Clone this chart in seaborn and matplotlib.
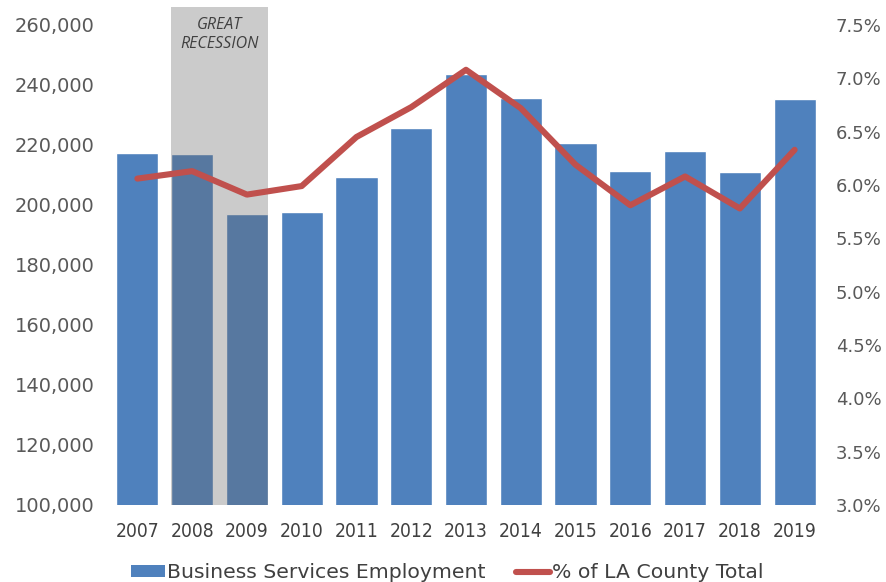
import matplotlib
matplotlib.use("Agg")
import matplotlib.pyplot as plt
import seaborn as sns
import pandas as pd
from matplotlib.ticker import FuncFormatter, MultipleLocator
from matplotlib.patches import Patch
from matplotlib.lines import Line2D
from matplotlib import font_manager as fm

years = ["2007", "2008", "2009", "2010", "2011", "2012", "2013",
         "2014", "2015", "2016", "2017", "2018", "2019"]
employment = [217500, 217000, 197000, 197800, 209300, 225600, 243700,
              235800, 220800, 211400, 218100, 211000, 235200]
share_pct = [6.06, 6.13, 5.91, 5.99, 6.45, 6.73, 7.08,
             6.72, 6.19, 5.81, 6.08, 5.78, 6.33]
recession_years = ["2008", "2009"]
bar_label = "Business Services Employment"
line_label = "% of LA County Total"

sns.set_theme(style="white")
plt.rcParams["font.family"] = ["DejaVu Sans"]

# pick a condensed face for the year labels if one is installed
cond = None
for f in fm.fontManager.ttflist:
    if f.stretch in ("condensed", "semi-condensed", 700, 600) or "Narrow" in f.name or "Condensed" in f.name:
        if f.style == "normal" and f.weight in (400, "normal", "regular"):
            cond = f.fname
            break
if cond:
    year_font = fm.FontProperties(fname=cond, size=13.8)
else:
    year_font = fm.FontProperties(family="Liberation Sans", size=12.5)

df = pd.DataFrame({"year": years, "employment": employment, "share": share_pct})

fig = plt.figure(figsize=(8.86, 5.82), dpi=100)
ax = fig.add_axes([110/886, 1 - 505/582, (822-110)/886, (505-25)/582])

BLUE = "#4f81bd"
RED = "#c0504d"
TICK = "#595959"

sns.barplot(data=df, x="year", y="employment", color=BLUE, saturation=1,
            width=0.77, ax=ax, zorder=2)
ax.set_ylim(100000, 260000)
ax.yaxis.set_major_locator(MultipleLocator(20000))
ax.yaxis.set_major_formatter(FuncFormatter(lambda v, p: f"{int(v):,}"))
ax.set_xlim(-0.5, len(years) - 0.5)
ax.set_xticks(range(len(years)), labels=years, fontproperties=year_font, color="#404040")

# recession shading (overlay)
i0 = years.index(recession_years[0])
i1 = years.index(recession_years[-1])
ax.axvspan(i0 - 0.385, i1 + 0.385, ymin=0, ymax=(505-7)/480, color="#696969",
           alpha=0.345, lw=0, zorder=3, clip_on=False)
ax.text((i0 + i1) / 2, 1.0 - (34.5-25)/480, "GREAT\nRECESSION", transform=ax.get_xaxis_transform(),
        ha="center", va="center", fontstyle="italic", fontsize=11.5, color="#404040",
        linespacing=1.3, zorder=5, fontfamily="Open Sans")

ax2 = ax.twinx()
sns.lineplot(x=list(range(len(years))), y=share_pct, color=RED, lw=4.4, ax=ax2,
             zorder=4)
ax2.set_ylim(3.0, 7.5)
ax2.yaxis.set_major_locator(MultipleLocator(0.5))
ax2.yaxis.set_major_formatter(FuncFormatter(lambda v, p: f"{v:.1f}%"))
ax2.set_xlim(-0.5, len(years) - 0.5)

for a in (ax, ax2):
    for s in a.spines.values():
        s.set_visible(False)
    a.grid(False)
    a.set_xlabel("")
    a.set_ylabel("")
ax.set_zorder(1)
ax2.set_zorder(2)
ax2.patch.set_visible(False)

ax.tick_params(axis="y", length=0, pad=11, labelsize=14, labelcolor=TICK)
ax2.tick_params(axis="y", length=0, pad=10, labelsize=13, labelcolor=TICK)
ax.tick_params(axis="x", length=0, pad=12)

handles = [Patch(facecolor=BLUE, edgecolor="none"),
           Line2D([0], [0], color=RED, lw=4.4)]
fig.legend(handles, [bar_label, line_label], loc="center", bbox_to_anchor=(0.505, 1 - 573/582),
           ncol=2, frameon=False, fontsize=14.7, handlelength=1.65, handleheight=0.5,
           columnspacing=1.5, handletextpad=0.12, labelcolor="#404040")

fig.savefig("out.png", dpi=100)
